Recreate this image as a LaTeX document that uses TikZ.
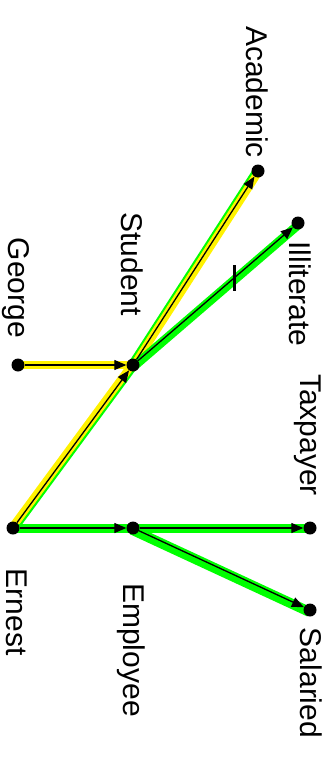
\documentclass[tikz,border=0pt]{standalone}
\usepackage{fontspec}
\setmainfont{Liberation Sans}
\usetikzlibrary{arrows.meta,backgrounds}

\begin{document}
\begin{tikzpicture}[x=1pt, y=-1pt,
    dot/.style={circle, fill=black, minimum size=13pt, inner sep=0pt},
    lbl/.style={rotate=-90, anchor=base, inner sep=0pt,
                font=\fontsize{30}{36}\selectfont},
    arr/.style={-{Triangle[length=12pt,width=10pt]}, line width=1.3pt},
    hlgreen/.style={green, line width=9pt},
    hlyellow/.style={yellow, line width=8pt},
    tickmark/.style={line width=3pt}]
  \useasboundingbox (0,0) rectangle (331,760);

  % points
  \node[dot] (academic)   at (258,171) {};
  \node[dot] (illiterate) at (298,223) {};
  \node[dot] (george)     at (18,365)  {};
  \node[dot] (student)    at (133,365) {};
  \node[dot] (ernest)     at (13,528)  {};
  \node[dot] (employee)   at (133,528) {};
  \node[dot] (taxpayer)   at (310,528) {};
  \node[dot] (salaried)   at (310,610) {};

  % names
  \node[lbl] (academic-l)   at (246,92)  {Academic};
  \node[lbl] (illiterate-l) at (289,294) {Illiterate};
  \node[lbl] (student-l)    at (121,264) {Student};
  \node[lbl] (george-l)     at (9,288)   {George};
  \node[lbl] (taxpayer-l)   at (300,435) {Taxpayer};
  \node[lbl] (ernest-l)     at (6,612)   {Ernest};
  \node[lbl] (employee-l)   at (123,650) {Employee};
  \node[lbl] (salaried-l)   at (300,683) {Salaried};

  % highlighted paths
  \begin{pgfonlayer}{background}
    \draw[hlgreen, line width=7pt, transform canvas={shift={(1.3,1)}}] (ernest.center) -- (student.center);
    \draw[hlyellow, transform canvas={shift={(-0.8,-0.6)}}] (ernest.center) -- (student.center);
    \draw[hlgreen, line width=7pt, transform canvas={shift={(-1.4,-0.9)}}] (student.center) -- (academic.center);
    \draw[hlyellow, transform canvas={shift={(0.8,0.5)}}] (student.center) -- (academic.center);
    \draw[hlyellow] (george.center) -- (student.center);
    \draw[hlgreen, transform canvas={shift={(1,1.2)}}] (student.center) -- (illiterate.center);
    \draw[hlgreen] (ernest.center) -- (employee.center);
    \draw[hlgreen] (employee.center) -- (taxpayer.center);
    \draw[hlgreen, line width=10pt, transform canvas={shift={(-0.8,1.8)}}] (employee.center) -- (salaried.center);
  \end{pgfonlayer}

  % links
  \draw[arr] (george) -- (student);
  \draw[arr] (ernest) -- (student);
  \draw[arr] (student) -- (academic);
  \draw[arr] (student) -- (illiterate) coordinate[pos=0.62] (cut);
  \draw[arr] (ernest) -- (employee);
  \draw[arr] (employee) -- (taxpayer);
  \draw[arr] (employee) -- (salaried);

  \draw[tickmark] (cut) ++(0,-13) -- ++(0,26);
\end{tikzpicture}
\end{document}
